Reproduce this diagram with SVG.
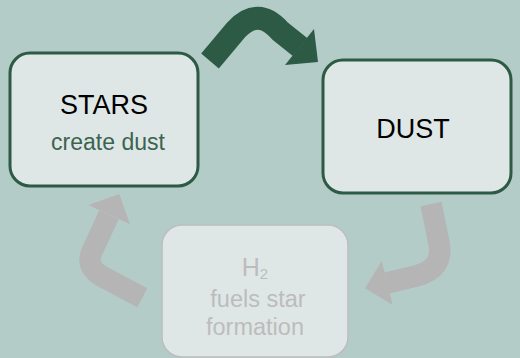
<svg xmlns="http://www.w3.org/2000/svg" width="520" height="358" viewBox="0 0 520 358">
<style>
.bg{fill:#b4ccc8}
.box{fill:#dfe7e6;stroke:#2d5a45;stroke-width:3}
.faded{fill:#dfe7e6;stroke:#bdbdbd;stroke-width:1.5}
.t{font-family:"Liberation Sans",Arial,sans-serif;text-anchor:middle}
.title{font-size:27px;fill:#000}
.sub{font-size:23px;fill:#3a6350}
.ft{fill:#bcbcbc}
.shaft{fill:none;stroke-linecap:butt;stroke-linejoin:round}
</style>
<rect class="bg" x="0" y="0" width="520" height="358"/>
<g id="connectors">
  <path class="shaft" d="M210,61 L236,30 Q258,6 280,31 L300,47" stroke="#2d5a45" stroke-width="23"/>
  <polygon points="314,29 318,62 285,65" fill="#2d5a45"/>
  <path class="shaft" d="M431,204 L439,243 Q444,269 416,276 L387,283" stroke="#b5b5b5" stroke-width="21.5"/>
  <polygon points="381.7,261 365,288.3 392.7,305" fill="#b5b5b5"/>
  <path class="shaft" d="M142.3,297.8 L102.7,276.7 Q84.8,267.1 92.2,251.1 L109,214.7" stroke="#b5b5b5" stroke-width="21.5"/>
  <polygon points="88.3,205 119.3,194 130,224.3" fill="#b5b5b5"/>
</g>
<g id="stars">
  <rect class="box" x="10" y="53" width="188" height="133" rx="20"/>
  <text class="t title" x="104" y="114">STARS</text>
  <text class="t sub" x="108" y="150">create dust</text>
</g>
<g id="dust">
  <rect class="box" x="323" y="60" width="188" height="133" rx="20"/>
  <text class="t title" x="413" y="138">DUST</text>
</g>
<g id="h2">
  <rect class="faded" x="162" y="225" width="186" height="132" rx="20"/>
  <text class="t ft" x="255" y="276" font-size="25">H<tspan font-size="15" dy="3">2</tspan></text>
  <text class="t ft" x="258" y="307" font-size="23.5">fuels star</text>
  <text class="t ft" x="255" y="335" font-size="23.5">formation</text>
</g>
</svg>
